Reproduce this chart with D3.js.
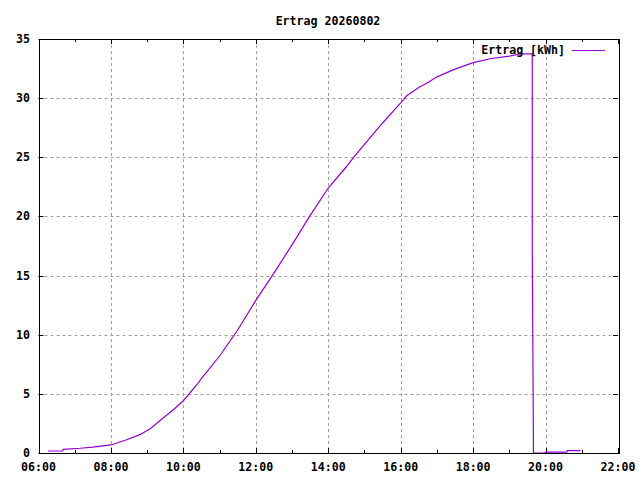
<!DOCTYPE html>
<html>
<head>
<meta charset="utf-8">
<script src="https://cdn.jsdelivr.net/npm/d3@7"></script>
<style>
  body { margin: 0; background: #fff; }
  text { font-family: "DejaVu Sans Mono", "Liberation Mono", monospace; font-weight: bold; font-size: 11.6px; fill: #000; }
</style>
</head>
<body>
<div id="chart"></div>
<script>
const width = 640;
const height = 480;

const title = "Ertrag 20260802";
const seriesName = "Ertrag [kWh]";

// time as "HH:MM", energy in kWh
const times = [
  "06:16", "06:40", "06:41", "07:09", "07:30", "08:00", "08:26", "08:48", "09:05",
  "09:27", "09:43", "10:00", "10:22", "10:30", "11:00", "11:30", "12:00", "12:30",
  "13:00", "13:29", "14:00", "14:30", "14:42", "15:00", "15:30", "16:00", "16:10",
  "16:30", "16:46", "17:00", "17:30", "18:00", "18:30", "19:00", "19:20", "19:38",
  "19:38", "19:40", "19:59", "20:00", "20:35", "20:36", "20:58"
];
const ertrag = [
  0.17, 0.17, 0.31, 0.4, 0.5, 0.68, 1.12, 1.55, 2.05,
  2.98, 3.63, 4.42, 5.75, 6.3, 8.2, 10.4, 12.9, 15.2,
  17.6, 20.0, 22.4, 24.2, 25.0, 26.1, 27.9, 29.6, 30.2,
  30.9, 31.35, 31.8, 32.45, 33.0, 33.35, 33.55, 33.75, 33.75,
  17.0, 0.0, 0.0, 0.08, 0.08, 0.2, 0.2
];

const xTicks = ["06:00", "08:00", "10:00", "12:00", "14:00", "16:00", "18:00", "20:00", "22:00"];
const xMinorTicks = ["07:00", "09:00", "11:00", "13:00", "15:00", "17:00", "19:00", "21:00"];
const yTicks = [0, 5, 10, 15, 20, 25, 30, 35];

const toHours = s => { const [h, m] = s.split(":").map(Number); return h + m / 60; };

const margin = { top: 39, right: 22, bottom: 27, left: 38.5 };
const plotW = width - margin.left - margin.right;
const plotH = height - margin.top - margin.bottom;

const svg = d3.select("#chart").append("svg")
    .attr("width", width)
    .attr("height", height);

svg.append("rect").attr("width", width).attr("height", height).attr("fill", "#fff");

const x = d3.scaleLinear().domain([6, 22]).range([margin.left, margin.left + plotW]);
const y = d3.scaleLinear().domain([0, 35]).range([margin.top + plotH, margin.top]);

const pLeft = margin.left, pRight = margin.left + plotW, pTop = margin.top, pBottom = margin.top + plotH;

// grid
const grid = svg.append("g").attr("stroke", "#a0a0a0").attr("stroke-dasharray", "3,3").attr("stroke-width", 1);
xTicks.slice(1, -1).forEach(t => {
    const xx = Math.round(x(toHours(t))) + 0.5;
    grid.append("line").attr("x1", xx).attr("x2", xx).attr("y1", pTop).attr("y2", pBottom);
});
yTicks.slice(1, -1).forEach(v => {
    const yy = Math.round(y(v)) + 0.5;
    grid.append("line").attr("x1", pLeft).attr("x2", pRight).attr("y1", yy).attr("y2", yy);
});

// tick marks, inward on all four sides
const tics = svg.append("g").attr("stroke", "#000").attr("stroke-width", 1);
xTicks.forEach(t => {
    const xx = Math.round(x(toHours(t))) + 0.5;
    tics.append("line").attr("x1", xx).attr("x2", xx).attr("y1", pBottom).attr("y2", pBottom - 5);
    tics.append("line").attr("x1", xx).attr("x2", xx).attr("y1", pTop).attr("y2", pTop + 5);
});
xMinorTicks.forEach(t => {
    const xx = Math.round(x(toHours(t))) + 0.5;
    tics.append("line").attr("x1", xx).attr("x2", xx).attr("y1", pBottom).attr("y2", pBottom - 3);
    tics.append("line").attr("x1", xx).attr("x2", xx).attr("y1", pTop).attr("y2", pTop + 3);
});
yTicks.forEach(v => {
    const yy = Math.round(y(v)) + 0.5;
    tics.append("line").attr("x1", pLeft).attr("x2", pLeft + 5).attr("y1", yy).attr("y2", yy);
    tics.append("line").attr("x1", pRight).attr("x2", pRight - 5).attr("y1", yy).attr("y2", yy);
});

// tick labels
svg.append("g").selectAll("text").data(xTicks).enter().append("text")
    .attr("x", d => x(toHours(d)))
    .attr("y", pBottom + 18)
    .attr("text-anchor", "middle")
    .text(d => d);

svg.append("g").selectAll("text").data(yTicks).enter().append("text")
    .attr("x", 30)
    .attr("y", d => y(d) + 4)
    .attr("text-anchor", "end")
    .text(d => d);

// data line
const data = times.map((t, i) => ({ t: toHours(t), v: ertrag[i] }));
const line = d3.line().x(d => x(d.t)).y(d => y(d.v));

svg.append("path")
    .datum(data)
    .attr("d", line)
    .attr("fill", "none")
    .attr("stroke", "#9400d3")
    .attr("stroke-width", 1.2);

// border
svg.append("rect")
    .attr("x", Math.round(pLeft) + 0.5).attr("y", pTop + 0.5)
    .attr("width", Math.round(plotW)).attr("height", Math.round(plotH))
    .attr("fill", "none").attr("stroke", "#000").attr("stroke-width", 1);

// title
svg.append("text")
    .attr("x", 328).attr("y", 25)
    .attr("text-anchor", "middle")
    .text(title);

// legend
svg.append("text")
    .attr("x", 565).attr("y", 54)
    .attr("text-anchor", "end")
    .text(seriesName);
svg.append("line")
    .attr("x1", 572).attr("x2", 605).attr("y1", 50.5).attr("y2", 50.5)
    .attr("stroke", "#9400d3").attr("stroke-width", 1.2);
</script>
</body>
</html>
